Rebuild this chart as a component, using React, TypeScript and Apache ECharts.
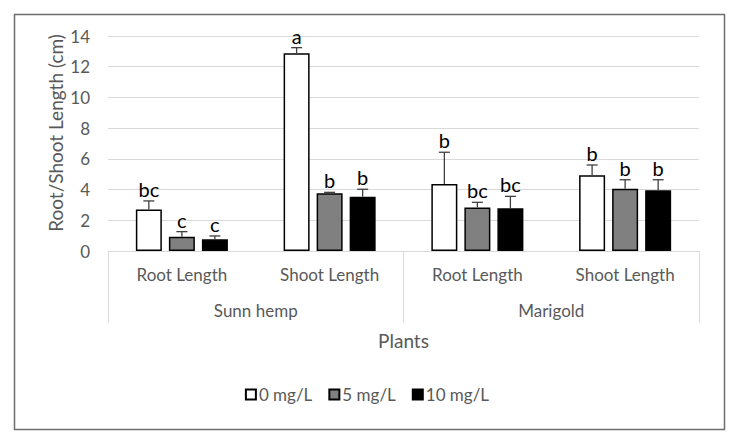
import { useEffect, useRef } from "react";
import * as echarts from "echarts";

const subCategories = ["Root Length", "Shoot Length", "Root Length", "Shoot Length"];
const plantGroups = ["Sunn hemp", "Marigold"];
const doses = ["0 mg/L", "5 mg/L", "10 mg/L"];

// mean values per dose (cm)
const dose0 = [2.71, 12.87, 4.36, 4.93];
const dose5 = [0.93, 3.76, 2.84, 4.06];
const dose10 = [0.76, 3.54, 2.78, 3.95];

// standard errors (upper bar only)
const err0 = [0.55, 0.37, 2.07, 0.67];
const err5 = [0.33, 0.06, 0.33, 0.58];
const err10 = [0.22, 0.48, 0.78, 0.69];

// significance letters
const letters0 = ["bc", "a", "b", "b"];
const letters5 = ["c", "b", "bc", "b"];
const letters10 = ["c", "b", "bc", "b"];

const FONT = "Lato, 'Noto Sans', sans-serif";
const GREY_TEXT = "#595959";
const BAR_W = 26;
const BAR_GAP = 0.27;

export default function App() {
  const chartRef = useRef<HTMLDivElement>(null);

  useEffect(() => {
    if (!chartRef.current) return;
    const chart = echarts.init(chartRef.current, undefined, { renderer: "svg" });

    const values = [dose0, dose5, dose10];
    const errors = [err0, err5, err10];
    const letters = [letters0, letters5, letters10];
    const fills = ["#ffffff", "#808080", "#000000"];

    const barSeries = doses.map((name, i) => ({
      name,
      type: "bar",
      xAxisIndex: 0,
      data: values[i],
      barWidth: BAR_W,
      barGap: `${BAR_GAP * 100}%`,
      itemStyle: { color: fills[i], borderColor: "#000", borderWidth: 1.5 },
    }));

    const errSeries = doses.map((name, i) => ({
      name: `${name} err`,
      type: "custom",
      xAxisIndex: 0,
      z: 5,
      data: values[i].map((v, k) => [k, v, errors[i][k]]),
      encode: { x: 0, y: 1 },
      renderItem: (params: any, api: any) => {
        const cat = api.value(0);
        const v = api.value(1);
        const e = api.value(2);
        const base = api.coord([cat, v]);
        const top = api.coord([cat, v + e]);
        const x = base[0] + (i - 1) * BAR_W * (1 + BAR_GAP);
        return {
          type: "group",
          children: [
            {
              type: "line",
              shape: { x1: x, y1: base[1], x2: x, y2: top[1] },
              style: { stroke: "#404040", lineWidth: 1.3 },
            },
            {
              type: "line",
              shape: { x1: x - 5.5, y1: top[1], x2: x + 5.5, y2: top[1] },
              style: { stroke: "#404040", lineWidth: 1.3 },
            },
            {
              type: "text",
              style: {
                text: letters[i][params.dataIndex],
                x,
                y: top[1] - 2,
                textAlign: "center",
                textVerticalAlign: "bottom",
                fontSize: 20,
                fontFamily: FONT,
                fill: "#000",
              },
            },
          ],
        };
      },
    }));

    const option: any = {
      animation: false,
      backgroundColor: "#fff",
      grid: { left: 108, right: 35, top: 36, bottom: 188 },
      legend: {
        data: doses,
        bottom: 31,
        left: "center",
        itemWidth: 10,
        itemHeight: 10,
        itemGap: 16,
        icon: "rect",
        textStyle: { color: GREY_TEXT, fontSize: 17, fontFamily: FONT, padding: [0, 0, 0, -2] },
      },
      xAxis: [
        {
          type: "category",
          data: subCategories,
          position: "bottom",
          axisLine: { lineStyle: { color: "#d9d9d9", width: 1 } },
          axisTick: { show: false },
          axisLabel: { margin: 15, color: GREY_TEXT, fontSize: 17, fontFamily: FONT },
        },
        {
          type: "category",
          data: plantGroups,
          position: "bottom",
          axisLine: { show: false },
          axisTick: { show: true, length: 72, lineStyle: { color: "#d9d9d9", width: 1 } },
          axisLabel: { margin: 51, color: GREY_TEXT, fontSize: 17, fontFamily: FONT },
          name: "Plants",
          nameLocation: "middle",
          nameGap: 80,
          nameTextStyle: { color: GREY_TEXT, fontSize: 19, fontFamily: FONT },
        },
      ],
      yAxis: {
        type: "value",
        min: 0,
        max: 14,
        interval: 2,
        axisLine: { show: false },
        axisTick: { show: false },
        axisLabel: { margin: 18, color: GREY_TEXT, fontSize: 17, fontFamily: FONT },
        splitLine: { lineStyle: { color: "#d9d9d9", width: 1 } },
      },
      graphic: [
        {
          type: "rect",
          left: 12,
          top: 12,
          shape: { width: 710, height: 415 },
          style: { fill: "none", stroke: "#6e6e6e", lineWidth: 1.5 },
          silent: true,
        },
        {
          type: "text",
          x: 55,
          y: 133,
          rotation: Math.PI / 2,
          style: {
            text: "Root/Shoot Length (cm)",
            textAlign: "center",
            textVerticalAlign: "middle",
            fontSize: 19,
            fontFamily: FONT,
            fill: GREY_TEXT,
          },
        },
      ],
      series: [...barSeries, ...errSeries],
    };

    chart.setOption(option);

    return () => {
      chart.dispose();
    };
  }, []);

  return (
    <div
      ref={chartRef}
      style={{ position: "absolute", left: 0, top: 0, width: 734, height: 439 }}
    />
  );
}
